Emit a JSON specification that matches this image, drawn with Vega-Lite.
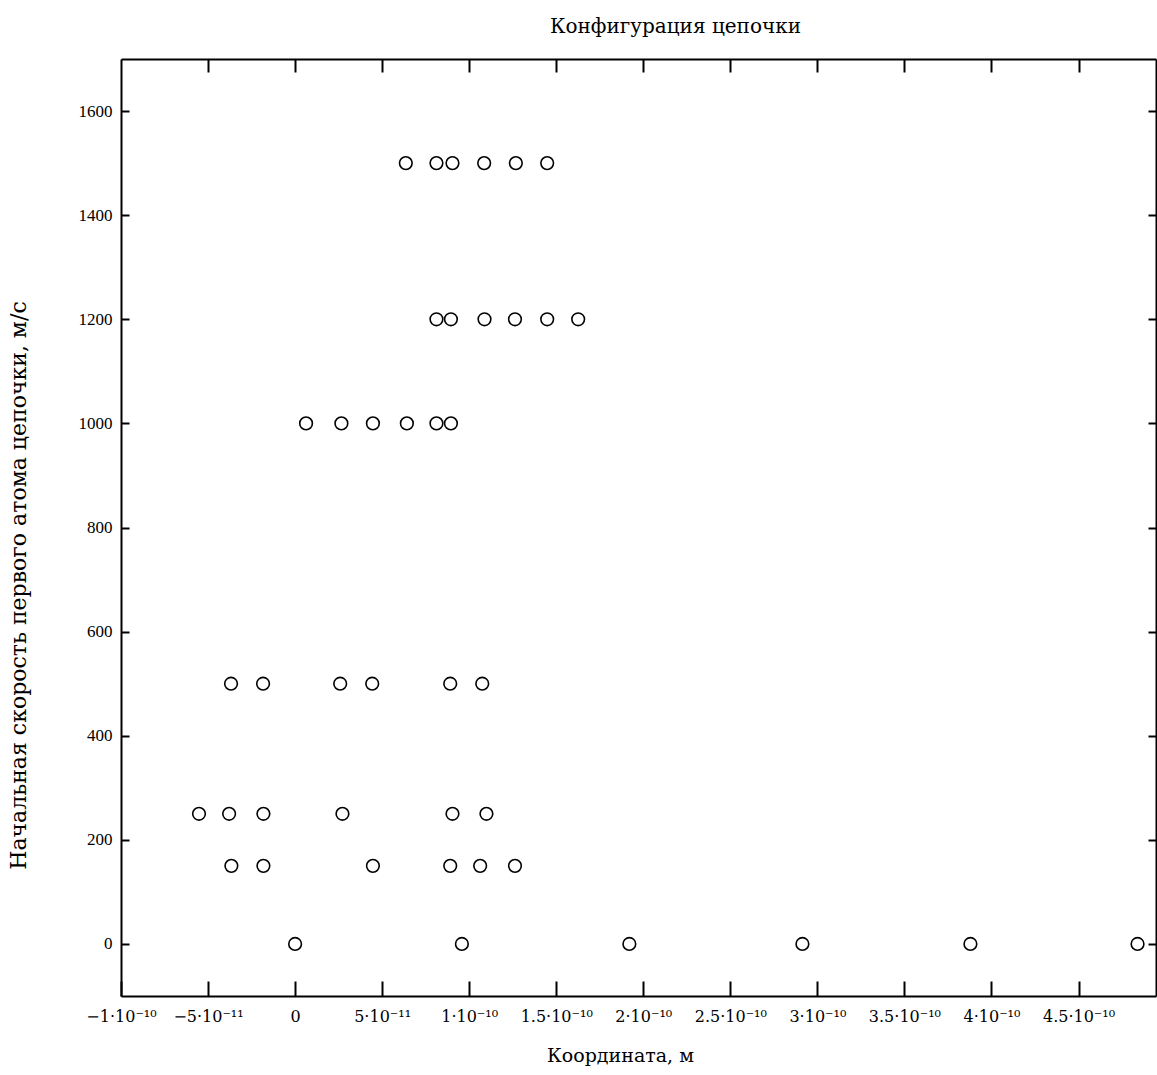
{
  "$schema": "https://vega.github.io/schema/vega-lite/v6.json",
  "width": 1035,
  "height": 937,
  "autosize": {"type": "none"},
  "padding": {"left": 121, "top": 59, "right": 1, "bottom": 79},
  "background": "white",
  "title": {
    "text": "Конфигурация цепочки",
    "font": "DejaVu Serif",
    "fontSize": 20,
    "fontWeight": "normal",
    "color": "black",
    "anchor": "middle",
    "dx": 37,
    "offset": 21
  },
  "data": {
    "values": [
      {"x": 0.636e-10, "v": 1500}, {"x": 0.812e-10, "v": 1500}, {"x": 0.904e-10, "v": 1500},
      {"x": 1.086e-10, "v": 1500}, {"x": 1.268e-10, "v": 1500}, {"x": 1.448e-10, "v": 1500},
      {"x": 0.812e-10, "v": 1200}, {"x": 0.895e-10, "v": 1200}, {"x": 1.088e-10, "v": 1200},
      {"x": 1.263e-10, "v": 1200}, {"x": 1.448e-10, "v": 1200}, {"x": 1.626e-10, "v": 1200},
      {"x": 0.063e-10, "v": 1000}, {"x": 0.266e-10, "v": 1000}, {"x": 0.447e-10, "v": 1000},
      {"x": 0.642e-10, "v": 1000}, {"x": 0.812e-10, "v": 1000}, {"x": 0.895e-10, "v": 1000},
      {"x": -0.368e-10, "v": 500}, {"x": -0.184e-10, "v": 500}, {"x": 0.259e-10, "v": 500},
      {"x": 0.443e-10, "v": 500}, {"x": 0.891e-10, "v": 500}, {"x": 1.075e-10, "v": 500},
      {"x": -0.552e-10, "v": 250}, {"x": -0.379e-10, "v": 250}, {"x": -0.182e-10, "v": 250},
      {"x": 0.272e-10, "v": 250}, {"x": 0.904e-10, "v": 250}, {"x": 1.099e-10, "v": 250},
      {"x": -0.366e-10, "v": 150}, {"x": -0.182e-10, "v": 150}, {"x": 0.447e-10, "v": 150},
      {"x": 0.891e-10, "v": 150}, {"x": 1.063e-10, "v": 150}, {"x": 1.263e-10, "v": 150},
      {"x": 0, "v": 0}, {"x": 0.958e-10, "v": 0}, {"x": 1.92e-10, "v": 0},
      {"x": 2.914e-10, "v": 0}, {"x": 3.879e-10, "v": 0}, {"x": 4.839e-10, "v": 0}
    ]
  },
  "layer": [
    {
      "mark": {"type": "point", "shape": "circle", "filled": false, "stroke": "black", "strokeWidth": 1.6, "size": 160, "opacity": 1},
      "encoding": {
        "x": {
          "field": "x", "type": "quantitative",
          "scale": {"domain": [-1e-10, 4.945e-10], "nice": false, "zero": false},
          "axis": {
            "orient": "bottom",
            "values": [-1e-10, -5e-11, 0, 5e-11, 1e-10, 1.5e-10, 2e-10, 2.5e-10, 3e-10, 3.5e-10, 4e-10, 4.5e-10],
            "labelExpr": "pad((round(datum.value*1e11) == 0 ? '0' : (round(datum.value*1e11) < 0 ? '−' : '') + (abs(round(datum.value*1e11)) == 5 ? '5·10⁻¹¹' : (abs(round(datum.value*1e11))/10) + '·10⁻¹⁰')), length(round(datum.value*1e11) == 0 ? '0' : (round(datum.value*1e11) < 0 ? '−' : '') + (abs(round(datum.value*1e11)) == 5 ? '5·10⁻¹¹' : (abs(round(datum.value*1e11))/10) + '·10⁻¹⁰')) + (round(datum.value*1e11) == -10 ? 16 : round(datum.value*1e11) == -5 ? 20 : round(0.55*round(datum.value*1e11))), '\u00a0')",
            "labelFont": "DejaVu Serif",
            "labelFontSize": 16,
            "tickSize": -15,
            "labelPadding": 27,
            "labelFlush": false,
            "labelOverlap": false,
            "title": "Координата, м",
            "titleFont": "DejaVu Serif",
            "titleX": 499,
            "titleY": 59,
            "titleBaseline": "middle",
            "titleFontSize": 19
          }
        },
        "y": {
          "field": "v", "type": "quantitative",
          "scale": {"domain": [-100, 1700], "nice": false, "zero": false},
          "axis": {
            "orient": "left",
            "values": [0, 200, 400, 600, 800, 1000, 1200, 1400, 1600],
            "format": "d",
            "labelFont": "Liberation Serif",
            "labelFontSize": 17,
            "tickSize": -8,
            "labelPadding": 17,
            "labelFlush": false,
            "labelOverlap": false,
            "title": "Начальная скорость первого атома цепочки, м/с",
            "titleFont": "DejaVu Serif",
            "titleX": -103,
            "titleY": 526,
            "titleBaseline": "middle",
            "titleFontSize": 22
          }
        }
      }
    },
    {
      "mark": {"type": "point", "opacity": 0},
      "encoding": {
        "x": {
          "field": "x", "type": "quantitative",
          "scale": {"domain": [-1e-10, 4.945e-10], "nice": false, "zero": false},
          "axis": {
            "orient": "top",
            "values": [-5e-11, 0, 5e-11, 1e-10, 1.5e-10, 2e-10, 2.5e-10, 3e-10, 3.5e-10, 4e-10, 4.5e-10],
            "tickSize": -13,
            "labels": false,
            "title": null
          }
        },
        "y": {
          "field": "v", "type": "quantitative",
          "scale": {"domain": [-100, 1700], "nice": false, "zero": false},
          "axis": {
            "orient": "right",
            "values": [0, 200, 400, 600, 800, 1000, 1200, 1400, 1600],
            "tickSize": -8,
            "labels": false,
            "title": null
          }
        }
      }
    }
  ],
  "resolve": {"scale": {"x": "independent", "y": "independent"}, "axis": {"x": "independent", "y": "independent"}},
  "config": {
    "view": {"stroke": null},
    "axis": {
      "grid": false,
      "domainColor": "black",
      "domainWidth": 2,
      "tickColor": "black",
      "tickWidth": 2,
      "labelColor": "black",
      "titleFontWeight": "normal",
      "titleColor": "black"
    }
  }
}
